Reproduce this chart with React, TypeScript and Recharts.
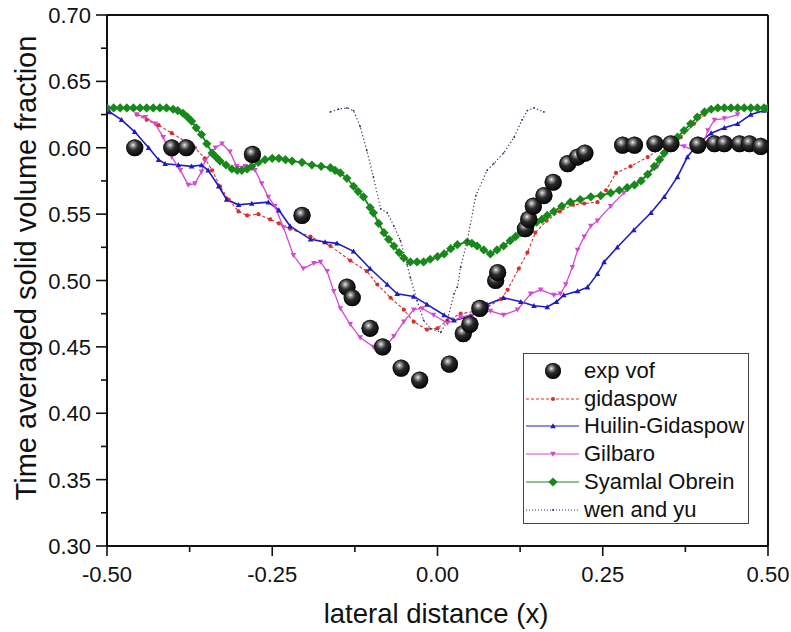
import { ComposedChart, Line, ReferenceLine, Scatter, XAxis, YAxis } from "recharts";

const xTicks = [-0.5, -0.375, -0.25, -0.125, 0, 0.125, 0.25, 0.375, 0.5];
const yTicks = [0.3, 0.325, 0.35, 0.375, 0.4, 0.425, 0.45, 0.475, 0.5, 0.525, 0.55, 0.575, 0.6, 0.625, 0.65, 0.675, 0.7];

const expVof: [number, number][] = [
  [-0.458, 0.6], [-0.402, 0.6], [-0.38, 0.6], [-0.28, 0.595], [-0.205, 0.549],
  [-0.137, 0.495], [-0.129, 0.487], [-0.102, 0.464], [-0.083, 0.45], [-0.055, 0.434],
  [-0.027, 0.425], [0.018, 0.437], [0.039, 0.46], [0.049, 0.467], [0.064, 0.479],
  [0.088, 0.5], [0.091, 0.506], [0.133, 0.539], [0.138, 0.546], [0.145, 0.556],
  [0.161, 0.564], [0.175, 0.574], [0.197, 0.588], [0.212, 0.593], [0.223, 0.596],
  [0.28, 0.602], [0.298, 0.602], [0.329, 0.603], [0.353, 0.603], [0.394, 0.602],
  [0.419, 0.603], [0.434, 0.603], [0.457, 0.603], [0.472, 0.603], [0.489, 0.601],
];

const gidaspow: [number, number][] = [
  [-0.455, 0.625], [-0.44, 0.621], [-0.422, 0.617], [-0.402, 0.611], [-0.382, 0.605],
  [-0.367, 0.6], [-0.352, 0.592], [-0.341, 0.583], [-0.329, 0.571], [-0.316, 0.561],
  [-0.301, 0.552], [-0.288, 0.549], [-0.271, 0.55], [-0.253, 0.546], [-0.24, 0.543],
  [-0.223, 0.539], [-0.192, 0.533], [-0.162, 0.526], [-0.132, 0.515], [-0.107, 0.507],
  [-0.091, 0.497], [-0.071, 0.487], [-0.051, 0.478], [-0.036, 0.469], [-0.016, 0.463],
  [0.0, 0.464], [0.015, 0.47], [0.035, 0.475], [0.06, 0.477], [0.075, 0.48],
  [0.096, 0.486], [0.106, 0.493], [0.123, 0.509], [0.136, 0.521], [0.148, 0.536],
  [0.165, 0.545], [0.185, 0.552], [0.205, 0.557], [0.222, 0.558], [0.242, 0.559],
  [0.255, 0.568], [0.27, 0.581], [0.292, 0.586], [0.318, 0.593], [0.343, 0.601],
  [0.368, 0.608], [0.388, 0.618], [0.404, 0.625],
];

const huilinGidaspow: [number, number][] = [
  [-0.5, 0.63], [-0.496, 0.627], [-0.478, 0.621], [-0.458, 0.612], [-0.437, 0.6],
  [-0.422, 0.591], [-0.412, 0.588], [-0.392, 0.587], [-0.372, 0.586], [-0.357, 0.587],
  [-0.347, 0.583], [-0.331, 0.571], [-0.319, 0.561], [-0.301, 0.557], [-0.281, 0.558],
  [-0.256, 0.559], [-0.24, 0.553], [-0.223, 0.541], [-0.192, 0.531], [-0.17, 0.529],
  [-0.152, 0.528], [-0.127, 0.522], [-0.102, 0.509], [-0.076, 0.497], [-0.061, 0.49],
  [-0.036, 0.488], [-0.016, 0.482], [0.01, 0.474], [0.025, 0.47], [0.05, 0.473],
  [0.075, 0.482], [0.1, 0.487], [0.126, 0.484], [0.146, 0.481], [0.166, 0.48],
  [0.18, 0.484], [0.191, 0.489], [0.212, 0.492], [0.227, 0.495], [0.242, 0.505],
  [0.252, 0.514], [0.272, 0.525], [0.297, 0.538], [0.323, 0.551], [0.343, 0.563],
  [0.363, 0.578], [0.378, 0.593], [0.394, 0.603], [0.414, 0.611], [0.434, 0.615],
  [0.454, 0.618], [0.474, 0.625], [0.494, 0.628], [0.5, 0.629],
];

const gilbaro: [number, number][] = [
  [-0.455, 0.625], [-0.442, 0.623], [-0.427, 0.618], [-0.415, 0.608], [-0.402, 0.593],
  [-0.389, 0.583], [-0.377, 0.572], [-0.367, 0.573], [-0.357, 0.582], [-0.352, 0.59],
  [-0.336, 0.6], [-0.326, 0.603], [-0.314, 0.597], [-0.304, 0.586], [-0.291, 0.586],
  [-0.276, 0.583], [-0.266, 0.573], [-0.256, 0.563], [-0.246, 0.556], [-0.233, 0.54],
  [-0.218, 0.519], [-0.203, 0.509], [-0.187, 0.513], [-0.177, 0.514], [-0.167, 0.507],
  [-0.157, 0.492], [-0.147, 0.479], [-0.132, 0.467], [-0.117, 0.457], [-0.097, 0.45],
  [-0.081, 0.449], [-0.066, 0.458], [-0.051, 0.469], [-0.036, 0.478], [-0.023, 0.479],
  [-0.006, 0.474], [0.015, 0.468], [0.035, 0.472], [0.055, 0.475], [0.08, 0.477],
  [0.1, 0.474], [0.121, 0.478], [0.141, 0.49], [0.156, 0.493], [0.176, 0.489],
  [0.186, 0.49], [0.194, 0.497], [0.204, 0.51], [0.212, 0.523], [0.222, 0.533],
  [0.232, 0.541], [0.242, 0.545], [0.262, 0.556], [0.282, 0.566], [0.308, 0.576],
  [0.333, 0.586], [0.348, 0.598], [0.358, 0.603], [0.373, 0.601], [0.388, 0.598],
  [0.4, 0.6], [0.409, 0.613], [0.419, 0.621], [0.434, 0.622], [0.454, 0.625],
];

const syamlalObrein: [number, number][] = [
  [-0.5, 0.63], [-0.49, 0.63], [-0.48, 0.63], [-0.47, 0.63], [-0.46, 0.63],
  [-0.45, 0.63], [-0.44, 0.63], [-0.43, 0.63], [-0.42, 0.63], [-0.41, 0.63],
  [-0.4, 0.629], [-0.393, 0.628], [-0.385, 0.626], [-0.378, 0.623], [-0.372, 0.62],
  [-0.365, 0.615], [-0.357, 0.61], [-0.349, 0.603], [-0.341, 0.596], [-0.335, 0.593],
  [-0.329, 0.59], [-0.32, 0.587], [-0.311, 0.584], [-0.303, 0.583], [-0.296, 0.583],
  [-0.288, 0.584], [-0.281, 0.586], [-0.271, 0.589], [-0.261, 0.591], [-0.25, 0.592],
  [-0.24, 0.592], [-0.23, 0.591], [-0.22, 0.59], [-0.205, 0.589], [-0.19, 0.587],
  [-0.176, 0.586], [-0.162, 0.585], [-0.155, 0.583], [-0.147, 0.581], [-0.137, 0.577],
  [-0.127, 0.571], [-0.12, 0.567], [-0.112, 0.563], [-0.102, 0.555], [-0.097, 0.551],
  [-0.089, 0.543], [-0.081, 0.536], [-0.074, 0.531], [-0.066, 0.526], [-0.058, 0.521],
  [-0.051, 0.517], [-0.041, 0.514], [-0.031, 0.514], [-0.021, 0.514], [-0.011, 0.516],
  [0.0, 0.518], [0.01, 0.52], [0.02, 0.524], [0.03, 0.527], [0.045, 0.529],
  [0.052, 0.528], [0.06, 0.526], [0.07, 0.523], [0.08, 0.52], [0.09, 0.523],
  [0.1, 0.526], [0.11, 0.53], [0.118, 0.533], [0.126, 0.536], [0.133, 0.539],
  [0.141, 0.541], [0.15, 0.544], [0.158, 0.546], [0.166, 0.549], [0.176, 0.552],
  [0.188, 0.556], [0.201, 0.559], [0.216, 0.561], [0.232, 0.563], [0.247, 0.564],
  [0.262, 0.566], [0.275, 0.568], [0.287, 0.57], [0.298, 0.572], [0.308, 0.575],
  [0.318, 0.58], [0.328, 0.586], [0.336, 0.591], [0.343, 0.596], [0.353, 0.602],
  [0.363, 0.608], [0.373, 0.613], [0.383, 0.618], [0.393, 0.623], [0.404, 0.627],
  [0.414, 0.629], [0.424, 0.63], [0.434, 0.63], [0.444, 0.63], [0.454, 0.63],
  [0.464, 0.63], [0.474, 0.63], [0.484, 0.63], [0.494, 0.63], [0.5, 0.63],
];

const wenAndYu: [number, number][] = [
  [-0.162, 0.627], [-0.15, 0.629], [-0.137, 0.63], [-0.127, 0.628], [-0.117, 0.616],
  [-0.107, 0.598], [-0.097, 0.578], [-0.086, 0.554], [-0.076, 0.551], [-0.066, 0.541],
  [-0.056, 0.53], [-0.046, 0.512], [-0.041, 0.502], [-0.031, 0.485], [-0.021, 0.47],
  [-0.011, 0.464], [0.005, 0.461], [0.015, 0.47], [0.025, 0.49], [0.03, 0.495],
  [0.035, 0.51], [0.045, 0.53], [0.058, 0.564], [0.075, 0.583], [0.085, 0.588],
  [0.1, 0.596], [0.116, 0.608], [0.128, 0.621], [0.136, 0.628], [0.146, 0.63],
  [0.161, 0.627],
];

const toRows = (pts: [number, number][]) => pts.map(([x, y]) => ({ x, y }));

const FONT = "'Liberation Sans', Arial, sans-serif";
const INK = "#111";

const RED = "#d8302c";
const BLUE = "#1c1cc4";
const MAGENTA = "#d24ad2";
const GREEN = "#17891a";
const NAVY = "#3b2c66";

type MarkerKind = "dot" | "up" | "down" | "diamond" | "tiny";

const Marker = ({ kind, cx, cy, color }: { kind: MarkerKind; cx: number; cy: number; color: string }) => {
  if (kind === "dot") return <circle cx={cx} cy={cy} r={2.1} fill={color} />;
  if (kind === "tiny") return <circle cx={cx} cy={cy} r={0.9} fill={color} />;
  if (kind === "up") {
    const s = 2.8;
    return <path d={`M${cx},${cy - s} L${cx + s},${cy + s * 0.8} L${cx - s},${cy + s * 0.8}Z`} fill={color} />;
  }
  if (kind === "down") {
    const s = 2.8;
    return <path d={`M${cx},${cy + s} L${cx + s},${cy - s * 0.8} L${cx - s},${cy - s * 0.8}Z`} fill={color} />;
  }
  const d = 4.6;
  return <path d={`M${cx},${cy - d} L${cx + d},${cy} L${cx},${cy + d} L${cx - d},${cy}Z`} fill={color} />;
};

const dotFor = (kind: MarkerKind, color: string) => (p: any) => (
  <Marker key={`m-${p.index}`} kind={kind} cx={p.cx} cy={p.cy} color={color} />
);

const isMajor = (v: number, step: number) => Math.abs(v / step - Math.round(v / step)) < 1e-6;

const XTick = (props: any) => {
  const { x, y, payload } = props;
  const v = payload.value as number;
  const major = isMajor(v, 0.25);
  return (
    <g>
      <line x1={x} x2={x} y1={y} y2={y + (major ? 10 : 6)} stroke={INK} strokeWidth={1.6} />
      {major && (
        <text x={x} y={y + 36} textAnchor="middle" fontSize={22} fontFamily={FONT} fill={INK}>
          {Math.abs(v) < 1e-9 ? "0.00" : v.toFixed(2)}
        </text>
      )}
    </g>
  );
};

const YTick = (props: any) => {
  const { x, y, payload } = props;
  const v = payload.value as number;
  const major = isMajor(v, 0.05);
  return (
    <g>
      <line x1={x - (major ? 11 : 6)} x2={x} y1={y} y2={y} stroke={INK} strokeWidth={1.6} />
      {major && (
        <text x={x - 16} y={y + 8} textAnchor="end" fontSize={22} fontFamily={FONT} fill={INK}>
          {v.toFixed(2)}
        </text>
      )}
    </g>
  );
};

const Ball = ({ cx, cy, r }: { cx: number; cy: number; r: number }) => (
  <g>
    <circle cx={cx} cy={cy} r={r} fill="url(#ballGrad)" />
    <circle cx={cx} cy={cy} r={r} fill="url(#ballRim)" />
  </g>
);

const legendItems: { name: string; color: string; kind: MarkerKind | "ball"; dash?: string }[] = [
  { name: "exp vof", color: INK, kind: "ball" },
  { name: "gidaspow", color: RED, kind: "dot", dash: "3 2" },
  { name: "Huilin-Gidaspow", color: BLUE, kind: "up" },
  { name: "Gilbaro", color: MAGENTA, kind: "down" },
  { name: "Syamlal Obrein", color: GREEN, kind: "diamond" },
  { name: "wen and yu", color: NAVY, kind: "tiny", dash: "1 2" },
];

const LegendBox = () => (
  <div
    style={{
      position: "absolute",
      left: 523,
      top: 353,
      width: 226,
      height: 171,
      border: "1px solid #444",
      background: "#fff",
      boxSizing: "border-box",
      fontFamily: FONT,
      fontSize: 22,
      color: INK,
    }}
  >
    {legendItems.map((it, i) => {
      const cy = 17 + i * 27.7;
      return (
        <div key={it.name} style={{ position: "absolute", left: 0, top: cy - 14, height: 28, width: 224 }}>
          <svg width={56} height={28} style={{ position: "absolute", left: 1, top: 0 }}>
            {it.kind === "ball" ? (
              <Ball cx={28} cy={14} r={8} />
            ) : (
              <>
                <line
                  x1={1}
                  x2={54}
                  y1={14}
                  y2={14}
                  stroke={it.color}
                  strokeWidth={1.1}
                  strokeDasharray={it.dash}
                />
                <Marker kind={it.kind} cx={28} cy={14} color={it.color} />
              </>
            )}
          </svg>
          <span style={{ position: "absolute", left: 60, top: 0, lineHeight: "28px", whiteSpace: "nowrap" }}>
            {it.name}
          </span>
        </div>
      );
    })}
  </div>
);

export default function App() {
  return (
    <div style={{ position: "absolute", left: 0, top: 0, width: 791, height: 632, background: "#fff" }}>
      <svg width={0} height={0} style={{ position: "absolute" }}>
        <defs>
          <radialGradient id="ballGrad" cx="0.4" cy="0.34" r="0.66">
            <stop offset="0" stopColor="#f4f4f4" />
            <stop offset="0.16" stopColor="#9a9a9a" />
            <stop offset="0.45" stopColor="#2c2c2c" />
            <stop offset="1" stopColor="#050505" />
          </radialGradient>
          <radialGradient id="ballRim" cx="0.5" cy="0.5" r="0.5">
            <stop offset="0.8" stopColor="#000" stopOpacity={0} />
            <stop offset="1" stopColor="#000" stopOpacity={0.6} />
          </radialGradient>
        </defs>
      </svg>
      <ComposedChart width={791} height={632} margin={{ top: 15, right: 23, bottom: 0, left: 0 }}>
        <XAxis
          dataKey="x"
          type="number"
          domain={[-0.5, 0.5]}
          ticks={xTicks}
          interval={0}
          height={86}
          tickSize={0}
          tickMargin={0}
          tickLine={false}
          axisLine={{ stroke: INK, strokeWidth: 2 }}
          tick={<XTick />}
          allowDataOverflow
        />
        <YAxis
          dataKey="y"
          type="number"
          domain={[0.3, 0.7]}
          ticks={yTicks}
          interval={0}
          width={107}
          tickSize={0}
          tickMargin={0}
          tickLine={false}
          axisLine={{ stroke: INK, strokeWidth: 2 }}
          tick={<YTick />}
          allowDataOverflow
        />
        <ReferenceLine y={0.7} stroke={INK} strokeWidth={2} />
        <ReferenceLine x={0.5} stroke={INK} strokeWidth={2} />
        <Line
          data={toRows(gidaspow)}
          dataKey="y"
          stroke={RED}
          strokeWidth={1.1}
          strokeDasharray="3 2"
          dot={dotFor("dot", RED)}
          activeDot={false}
          isAnimationActive={false}
        />
        <Line
          data={toRows(huilinGidaspow)}
          dataKey="y"
          stroke={BLUE}
          strokeWidth={1.6}
          dot={dotFor("up", BLUE)}
          activeDot={false}
          isAnimationActive={false}
        />
        <Line
          data={toRows(gilbaro)}
          dataKey="y"
          stroke={MAGENTA}
          strokeWidth={1.3}
          dot={dotFor("down", MAGENTA)}
          activeDot={false}
          isAnimationActive={false}
        />
        <Line
          data={toRows(syamlalObrein)}
          dataKey="y"
          stroke={GREEN}
          strokeWidth={1.8}
          dot={dotFor("diamond", GREEN)}
          activeDot={false}
          isAnimationActive={false}
        />
        <Line
          data={toRows(wenAndYu)}
          dataKey="y"
          stroke={NAVY}
          strokeWidth={1.2}
          strokeDasharray="1.2 2.4"
          dot={dotFor("tiny", NAVY)}
          activeDot={false}
          isAnimationActive={false}
        />
        <Scatter
          data={toRows(expVof)}
          dataKey="y"
          shape={(p: any) => <Ball cx={p.cx} cy={p.cy} r={8.6} />}
          isAnimationActive={false}
        />
      </ComposedChart>
      <LegendBox />
      <div
        style={{
          position: "absolute",
          left: 436,
          top: 614,
          transform: "translate(-50%, -50%)",
          fontFamily: FONT,
          fontSize: 27.5,
          color: INK,
          whiteSpace: "nowrap",
          lineHeight: "30px",
        }}
      >
        lateral distance (x)
      </div>
      <div
        style={{
          position: "absolute",
          left: 26,
          top: 268,
          transform: "translate(-50%, -50%) rotate(-90deg)",
          fontFamily: FONT,
          fontSize: 29,
          color: INK,
          whiteSpace: "nowrap",
          lineHeight: "30px",
        }}
      >
        Time averaged solid volume fraction
      </div>
    </div>
  );
}
